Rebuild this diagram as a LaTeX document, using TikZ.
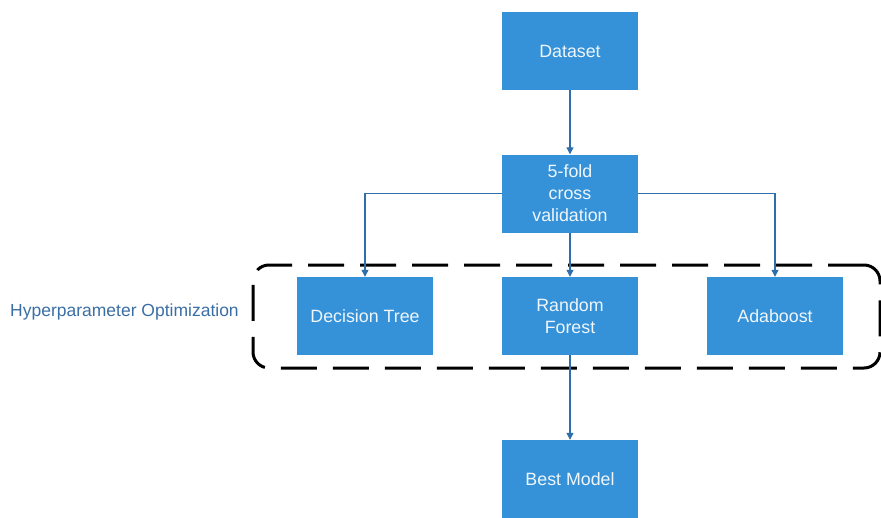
\documentclass[tikz,border=0pt]{standalone}
\usepackage{fontspec}
\setmainfont{Liberation Sans}
\usetikzlibrary{arrows.meta}
\definecolor{boxblue}{RGB}{53,146,216}
\definecolor{linkblue}{RGB}{46,110,170}
\definecolor{lblblue}{RGB}{58,110,165}
\tikzset{
  box/.style={fill=boxblue, draw=none, minimum width=136pt, minimum height=78pt, inner sep=0pt,
    text=white!92!boxblue, font=\fontsize{17.8}{22}\selectfont, align=center},
  link/.style={draw=linkblue, line width=1.1pt, -{Triangle[width=7pt,length=7pt]}},
  group/.style={draw=black, line width=3pt, dash pattern=on 36pt off 16pt, rounded corners=16pt,
    minimum width=627pt, minimum height=103pt, inner sep=0pt}
}
\begin{document}
\begin{tikzpicture}[x=1pt,y=-1pt]
\useasboundingbox (0,0) rectangle (881,517);
\clip (0,0) rectangle (881,517);
\node[group] (hpo) at (566.5,316.5) {};
\node[box] (data) at (570,51) {Dataset};
\node[box] (cv) at (570,193.5) {5-fold\\cross\\validation};
\node[box] (dt) at (365,316) {Decision Tree};
\node[box] (rf) at (570,316) {Random\\Forest};
\node[box] (ada) at (775,316) {Adaboost};
\node[box] (best) at (570,479) {Best Model};
\node[text=lblblue, font=\fontsize{17.5}{20}\selectfont, anchor=west, inner sep=0pt] (lbl) at (10,312) {Hyperparameter Optimization};
\draw[link] (data.south) -- (cv.north);
\draw[link] (cv.west) -| (dt.north);
\draw[link] (cv.east) -| (ada.north);
\draw[link] (cv.south) -- (rf.north);
\draw[link] (rf.south) -- (best.north);
\end{tikzpicture}
\end{document}
